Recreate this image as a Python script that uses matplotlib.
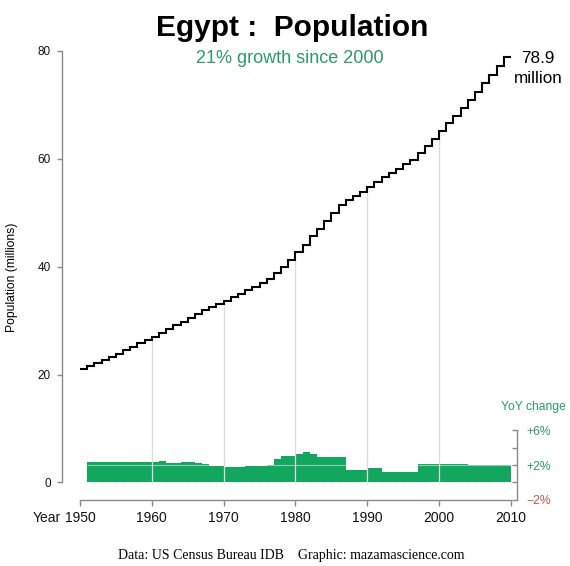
import matplotlib
matplotlib.use("Agg")
import matplotlib.pyplot as plt

plt.rcParams['font.family'] = ['Liberation Sans', 'DejaVu Sans']

# population (millions), one value per year 1950..2009
years = list(range(1950, 2010))
pop = [21.1, 21.6, 22.2, 22.7, 23.3, 23.9, 24.5, 25.1, 25.8, 26.4,
       27.0, 27.7, 28.4, 29.1, 29.8, 30.5, 31.2, 31.9, 32.5, 33.1,
       33.6, 34.3, 34.9, 35.6, 36.3, 37.0, 37.8, 38.8, 40.0, 41.3,
       42.7, 44.1, 45.6, 47.0, 48.4, 49.9, 51.5, 52.3, 53.1, 53.9,
       54.7, 55.7, 56.6, 57.4, 58.2, 59.0, 59.8, 61.0, 62.3, 63.7,
       65.2, 66.6, 68.0, 69.4, 70.9, 72.4, 74.0, 75.6, 77.2, 78.9]

# year over year change (%), 1951..2009
g_years = list(range(1951, 2010))
growth = [2.3, 2.3, 2.3, 2.3, 2.3, 2.3, 2.3, 2.3, 2.3, 2.3,
          2.45, 2.2, 2.2, 2.35, 2.35, 2.25, 2.1, 1.85, 1.85,
          1.77, 1.77, 1.77, 1.9, 1.9, 1.9, 2.05, 2.68, 3.05, 3.0,
          3.24, 3.47, 3.24, 2.94, 2.94, 2.94, 2.94, 1.43, 1.43, 1.43,
          1.66, 1.66, 1.25, 1.25, 1.25, 1.25, 1.25,
          2.11, 2.11, 2.10, 2.10, 2.09, 2.08, 2.07, 2.06, 2.05,
          2.04, 2.03, 2.02, 2.01]

decades = [1950, 1960, 1970, 1980, 1990, 2000, 2010]
pop_ticks = [0, 20, 40, 60, 80]
yoy_ticks = [-2, 0, 2, 4, 6]
yoy_labels = ['\u22122%', '', '+2%', '', '+6%']

green = '#13a65f'
text_green = '#2a9a6c'
red = '#c9504f'
axis_grey = '#8a8a8a'

fig = plt.figure(figsize=(5.7, 5.66), dpi=100)
ax = fig.add_axes([0.10877, 0.11661, 0.79825, 0.80389])
ax2 = ax.twinx()
ax.set_zorder(ax2.get_zorder() + 1)
ax.patch.set_visible(False)

# yoy bars
ax2.bar(g_years, growth, width=1, align='edge', color=green, linewidth=0)
ax2.hlines(2, g_years[0], g_years[-1] + 1, color='white', lw=0.8, alpha=0.5)

# grid lines at the decades, up to the curve
for d in decades[1:-1]:
    ax.vlines(d, 0, pop[years.index(d) - 1], color='#dcdcdc', lw=0.9, zorder=1)
ax.vlines(g_years + [2010], -0.4, 0, color='#ececec', lw=0.5, zorder=1)

# population steps
ax.stairs(pop, years + [2010], baseline=None, color='black', lw=1.5, zorder=3)

ax.set_xlim(1947.5, 2010.85)
ax.set_ylim(-3.25, 81.1)
ax2.set_ylim(-2.02, 50.3)

for s in ['top', 'right']:
    ax.spines[s].set_visible(False)
for s in ['top', 'left', 'bottom']:
    ax2.spines[s].set_visible(False)
ax.spines['left'].set_bounds(0, 80)
ax.spines['bottom'].set_bounds(1950, 2010)
ax2.spines['right'].set_bounds(-2, 6)
for sp in [ax.spines['left'], ax.spines['bottom'], ax2.spines['right']]:
    sp.set_color(axis_grey)
    sp.set_linewidth(1.0)

ax.set_xticks(decades)
ax.set_xticklabels([str(d) for d in decades])
ax.tick_params(axis='x', direction='out', length=4.3, width=1.0, color=axis_grey,
               labelsize=10, pad=3.5, labelcolor='#111111')
ax.set_yticks(pop_ticks)
ax.tick_params(axis='y', direction='out', length=3.6, width=1.0, color=axis_grey,
               labelsize=8.5, pad=4.5, labelcolor='#111111')
ax.annotate('Year', xy=(1950, 0), xycoords=ax.get_xaxis_transform(),
            xytext=(-14, -7.8), textcoords='offset points',
            ha='right', va='top', fontsize=10, color='#111111')

ax2.set_yticks(yoy_ticks)
ax2.set_yticklabels(yoy_labels)
ax2.tick_params(axis='y', direction='in', length=3.6, width=1.0, color=axis_grey,
                labelsize=8.7, pad=7)
for lab, t in zip(ax2.get_yticklabels(), yoy_ticks):
    lab.set_color(red if t < 0 else text_green)
ax2.tick_params(axis='x', bottom=False, labelbottom=False)

fig.text(12 / 570, 1 - 277 / 566, 'Population (millions)', rotation=90,
         ha='center', va='center', fontsize=8.7)
fig.text(292 / 570, 1 - 36.5 / 566, 'Egypt :  Population', ha='center',
         va='baseline', fontsize=21.5, fontweight='bold')
fig.text(290 / 570, 1 - 58 / 566, '21% growth since 2000', ha='center',
         va='center', fontsize=13, color=text_green)
fig.text(538 / 570, 1 - 63.3 / 566, '78.9', ha='center', va='baseline',
         fontsize=12.3)
fig.text(538 / 570, 1 - 83 / 566, 'million', ha='center', va='baseline',
         fontsize=12.3)
fig.text(533 / 570, 1 - 407 / 566, 'YoY change', ha='center', va='center',
         fontsize=8.7, color=text_green)
fig.text(291 / 570, 1 - 556 / 566,
         'Data: US Census Bureau IDB    Graphic: mazamascience.com',
         ha='center', va='center', fontsize=10, family='Liberation Serif')

fig.savefig('out.png', dpi=100)
